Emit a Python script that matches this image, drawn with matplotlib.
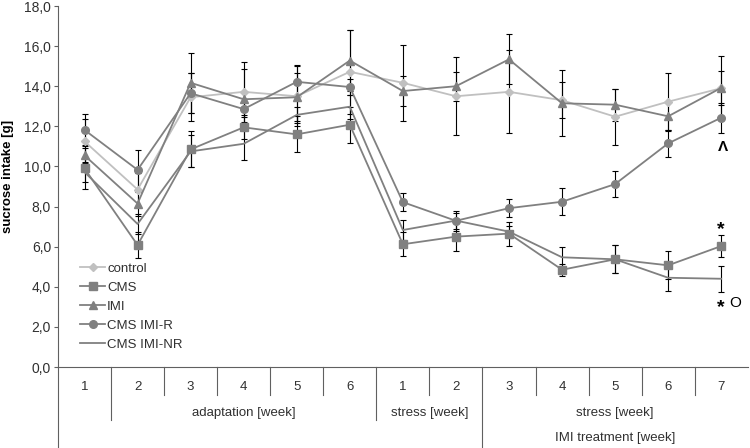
#! /usr/bin/env python
# -*- coding: utf-8 -*-

import matplotlib
matplotlib.use("Agg")
import matplotlib.pyplot as plt
from matplotlib.ticker import FuncFormatter

plt.rcParams['font.family'] = ['Liberation Sans', 'DejaVu Sans']

#%% podatki

weeks = ["1", "2", "3", "4", "5", "6", "1", "2", "3", "4", "5", "6", "7"]
groups2 = [("adaptation [week]", 2, 6), ("stress [week]", 7, 8), ("stress [week]", 9, 13)]
groups3 = [("IMI treatment [week]", 9, 13)]

control = [11.25, 8.85, 13.45, 13.72, 13.50, 14.72, 14.17, 13.50, 13.72, 13.30, 12.48, 13.23, 13.90]
cms = [9.90, 6.08, 10.85, 11.95, 11.60, 12.08, 6.12, 6.50, 6.65, 4.85, 5.37, 5.07, 6.03]
imi = [10.55, 8.15, 14.17, 13.35, 13.45, 15.28, 13.76, 14.00, 15.34, 13.15, 13.08, 12.50, 13.92]
imi_r = [11.82, 9.83, 13.65, 12.86, 14.22, 13.96, 8.22, 7.29, 7.92, 8.24, 9.12, 11.15, 12.43]
imi_nr = [9.72, 7.13, 10.75, 11.13, 12.57, 12.98, 6.83, 7.30, 6.75, 5.47, 5.37, 4.45, 4.40]

control_err = [1.1, 0.8, 1.2, 1.5, 1.5, 2.1, 1.9, 1.95, 2.07, 0.9, 1.4, 1.45, 1.6]
cms_err = [1.0, 0.65, 0.9, 0.6, 0.9, 0.9, 0.6, 0.7, 0.6, 0.3, 0.7, 0.7, 0.55]
imi_err = [0.5, 0.6, 1.5, 1.5, 1.2, 1.5, 0.75, 0.72, 1.24, 1.65, 0.8, 0.7, 0.85]
imi_r_err = [0.8, 1.0, 1.0, 0.4, 0.85, 0.4, 0.45, 0.5, 0.46, 0.67, 0.66, 0.67, 0.75]
imi_nr_err = [0.5, 0.5, 0.8, 0.8, 0.4, 0.6, 0.5, 0.4, 0.3, 0.5, 0.7, 0.65, 0.65]

x = list(range(1, len(weeks) + 1))

#%% izris

fig = plt.figure(figsize=(7.5, 4.48), dpi=100, facecolor='w')
ax = fig.add_axes([0.0773, 0.1808, 0.9197, 0.8058])

siva = '#808080'
svetla = '#c0c0c0'

serije = [
    (control, control_err, svetla, 'D', 4.5, 'control'),
    (cms, cms_err, siva, 's', 6.0, 'CMS'),
    (imi, imi_err, siva, '^', 6.0, 'IMI'),
    (imi_r, imi_r_err, siva, 'o', 5.5, 'CMS IMI-R'),
    (imi_nr, imi_nr_err, siva, None, 0, 'CMS IMI-NR'),
]

for val, err, col, mk, ms, lab in serije:
    ax.errorbar(x, val, yerr=err, fmt='none', ecolor='k', elinewidth=0.8,
                capsize=2.3, capthick=0.8, zorder=2)
    ax.plot(x, val, color=col, marker=mk, markersize=ms, linewidth=1.3,
            markeredgecolor=col, label=lab, zorder=3)

ax.set_xlim(0.5, 13.5)
ax.set_ylim(0, 18)
ax.set_yticks([0, 2, 4, 6, 8, 10, 12, 14, 16, 18])
ax.yaxis.set_major_formatter(FuncFormatter(lambda v, p: ("%.1f" % v).replace('.', ',')))
ax.tick_params(axis='y', labelsize=10, length=3, width=0.8, color='#606060', pad=2,
               labelcolor='#303030')
ax.set_xticks([])
ax.set_ylabel("sucrose intake [g]", fontsize=9.5, fontweight='bold')
ax.yaxis.set_label_coords(-0.064, 0.529)

for s in ['top', 'right']:
    ax.spines[s].set_visible(False)
for s in ['left', 'bottom']:
    ax.spines[s].set_color('#606060')
    ax.spines[s].set_linewidth(0.8)

# vecnivojska os x
tr = ax.get_xaxis_transform()
y1, y2, y3 = -0.0776, -0.1468, -0.2244
ax.plot([0.5, 0.5], [0, y3], transform=tr, color='#606060', lw=0.8, clip_on=False)
for i in range(1, len(weeks)):
    d = i + 0.5
    if d == 8.5:
        konec = y3
    elif d in (1.5, 6.5):
        konec = y2
    else:
        konec = y1
    ax.plot([d, d], [0, konec], transform=tr, color='#606060', lw=0.8, clip_on=False)

for xi, w in zip(x, weeks):
    ax.text(xi, -0.0554, w, transform=tr, ha='center', va='center', fontsize=9.5, color='#303030')
for lab, a, b in groups2:
    ax.text((a + b) / 2.0, -0.1274, lab, transform=tr, ha='center', va='center', fontsize=9.5, color='#303030')
for lab, a, b in groups3:
    ax.text((a + b) / 2.0, -0.1967, lab, transform=tr, ha='center', va='center', fontsize=9.5, color='#303030')

# oznake
ax.text(13.03, 10.98, "Λ", ha='center', va='center', fontsize=11, fontweight='bold')
ax.text(13.0, 6.85, "*", ha='center', va='center', fontsize=14, fontweight='bold')
ax.text(13.0, 2.95, "*", ha='center', va='center', fontsize=14, fontweight='bold')
ax.text(13.27, 3.2, "O", ha='center', va='center', fontsize=11)

leg = ax.legend(loc='upper left', bbox_to_anchor=(0.032, 0.29), frameon=False, fontsize=9.5,
                handlelength=1.9, handletextpad=0.15, labelspacing=0.52,
                borderpad=0, borderaxespad=0)
for t in leg.get_texts():
    t.set_color('#303030')

plt.savefig("out.png", dpi=100)
